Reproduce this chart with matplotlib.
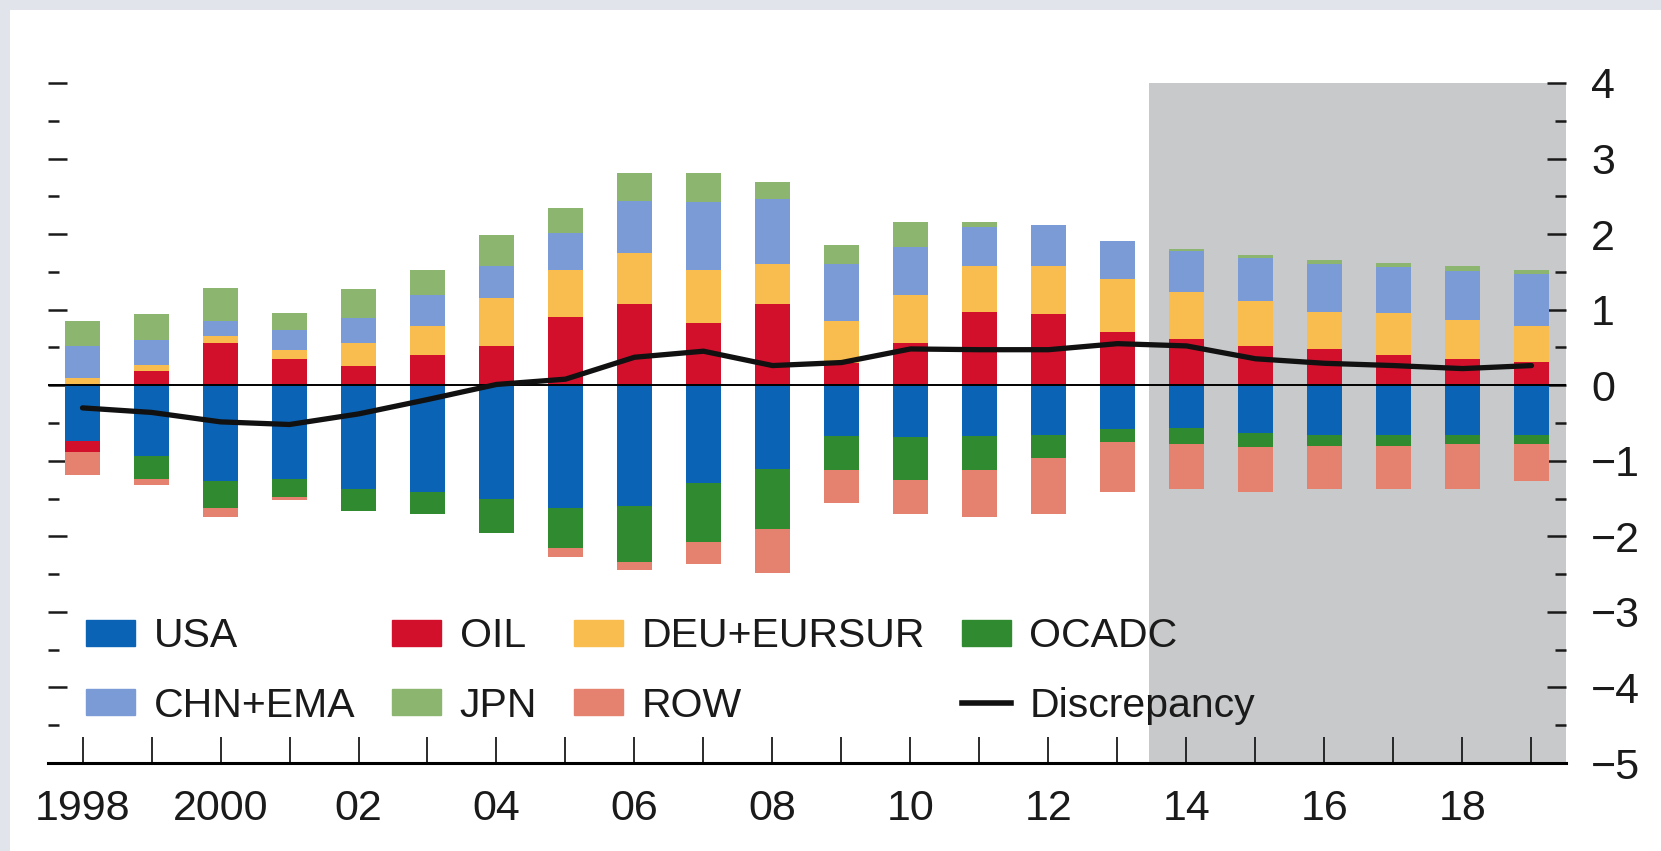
import numpy as np
import matplotlib
matplotlib.use("Agg")
import matplotlib.pyplot as plt
from matplotlib.lines import Line2D
from matplotlib.patches import Patch, Rectangle

# no condensed face is installed, Liberation Sans is the narrowest that looks right
plt.rcParams['font.family'] = ['Liberation Sans', 'DejaVu Sans']

# data
years = np.arange(1998, 2020)
usa = [-0.74, -0.935, -1.27, -1.24, -1.38, -1.41, -1.50, -1.63, -1.60, -1.29, -1.11,
       -0.67, -0.69, -0.67, -0.66, -0.58, -0.57, -0.63, -0.66, -0.66, -0.66, -0.66]
oil = [-0.15, 0.19, 0.565, 0.35, 0.26, 0.40, 0.52, 0.90, 1.07, 0.82, 1.07,
       0.30, 0.565, 0.975, 0.94, 0.70, 0.61, 0.52, 0.485, 0.40, 0.35, 0.31]
deu = [0.10, 0.075, 0.09, 0.12, 0.30, 0.38, 0.64, 0.62, 0.675, 0.71, 0.54,
       0.55, 0.63, 0.60, 0.64, 0.705, 0.625, 0.595, 0.49, 0.55, 0.51, 0.48]
ocadc = [0.0, -0.31, -0.35, -0.24, -0.28, -0.29, -0.45, -0.53, -0.74, -0.79, -0.79,
         -0.45, -0.565, -0.45, -0.30, -0.17, -0.21, -0.19, -0.15, -0.15, -0.12, -0.12]
chn = [0.42, 0.335, 0.20, 0.26, 0.33, 0.41, 0.42, 0.49, 0.69, 0.90, 0.855,
       0.75, 0.63, 0.52, 0.54, 0.50, 0.54, 0.575, 0.63, 0.61, 0.65, 0.68]
jpn = [0.33, 0.34, 0.43, 0.23, 0.38, 0.34, 0.41, 0.34, 0.38, 0.38, 0.23,
       0.26, 0.34, 0.06, 0.0, 0.0, 0.03, 0.03, 0.05, 0.06, 0.07, 0.06]
row = [-0.30, -0.08, -0.12, -0.04, 0.0, 0.0, 0.0, -0.11, -0.10, -0.29, -0.59,
       -0.445, -0.45, -0.62, -0.75, -0.66, -0.60, -0.59, -0.56, -0.56, -0.595, -0.49]
discrepancy = [-0.30, -0.36, -0.485, -0.52, -0.38, -0.19, 0.01, 0.08, 0.37, 0.45, 0.26,
               0.30, 0.48, 0.47, 0.47, 0.55, 0.52, 0.35, 0.29, 0.26, 0.22, 0.26]

names = ['USA', 'OIL', 'DEU+EURSUR', 'OCADC', 'CHN+EMA', 'JPN', 'ROW']
series = [usa, oil, deu, ocadc, chn, jpn, row]
colors = ['#0b63b5', '#d2102c', '#f9bc4f', '#2f8a30', '#7a9bd6', '#8cb56f', '#e5816f']

year_labels = ['1998', '2000', '02', '04', '06', '08', '10', '12', '14', '16', '18']

fig = plt.figure(figsize=(16.61, 8.51), dpi=100)
fig.patch.set_facecolor('#e1e5eb')
# white sheet under the chart, the screenshot has a grey strip top and left
fig.patches.append(Rectangle((0.006, 0), 0.994, 0.988, transform=fig.transFigure,
                             facecolor='white', edgecolor='none', zorder=-10))

ax = fig.add_axes([0.0289, 0.1034, 0.9139, 0.7991])
ax.set_facecolor('none')

# projection shading
ax.axvspan(2013.45, 2019.5, color='#c8c9cb', zorder=0, lw=0)

pos = np.zeros(len(years))
neg = np.zeros(len(years))
for name, vals, c in zip(names, series, colors):
    v = np.array(vals)
    bottom = np.where(v >= 0, pos, neg)
    ax.bar(years, v, width=0.5, bottom=bottom, color=c, zorder=2, lw=0)
    pos = pos + np.where(v >= 0, v, 0)
    neg = neg + np.where(v < 0, v, 0)

ax.axhline(0, color='black', lw=1.4, zorder=3)
ax.plot(years, discrepancy, color='#111111', lw=3.8, zorder=4, solid_capstyle='round')

ax.set_xlim(1997.5, 2019.5)
ax.set_ylim(-5, 4)

for s in ['top', 'left', 'right']:
    ax.spines[s].set_visible(False)
ax.spines['bottom'].set_linewidth(2.2)
ax.spines['bottom'].set_zorder(5)

ax.set_xticks(years)
ax.set_xticklabels([year_labels[i // 2] if i % 2 == 0 and i // 2 < len(year_labels) else ''
                    for i in range(len(years))])
ax.tick_params(axis='x', direction='in', length=19, width=1.3, pad=19,
               labelsize=31, colors='#1a1a1a')

ax.set_yticks(np.arange(-5, 5, 1))
ax.set_yticks(np.arange(-4.5, 4, 1), minor=True)
ax.tick_params(axis='y', which='both', direction='in', left=True, right=True,
               labelleft=False, labelright=True, width=1.8, colors='#1a1a1a')
ax.tick_params(axis='y', which='major', length=14, pad=18, labelsize=31)
ax.tick_params(axis='y', which='minor', length=8)

handles = [Patch(color=colors[0]), Patch(color=colors[4]),
           Patch(color=colors[1]), Patch(color=colors[5]),
           Patch(color=colors[2]), Patch(color=colors[6]),
           Patch(color=colors[3]), Line2D([], [], color='#111111', lw=4)]
labels = ['USA', 'CHN+EMA', 'OIL', 'JPN', 'DEU+EURSUR', 'ROW', 'OCADC', 'Discrepancy']
leg = ax.legend(handles, labels, ncol=4, loc='lower left', bbox_to_anchor=(0.025, 0.056),
                frameon=False, fontsize=29.5, handlelength=1.2, handleheight=0.6,
                handletextpad=0.45, columnspacing=0.9, labelspacing=0.78, borderpad=0,
                borderaxespad=0)
for t in leg.get_texts():
    t.set_color('#1a1a1a')

fig.savefig('out.png', dpi=100, facecolor=fig.get_facecolor())
